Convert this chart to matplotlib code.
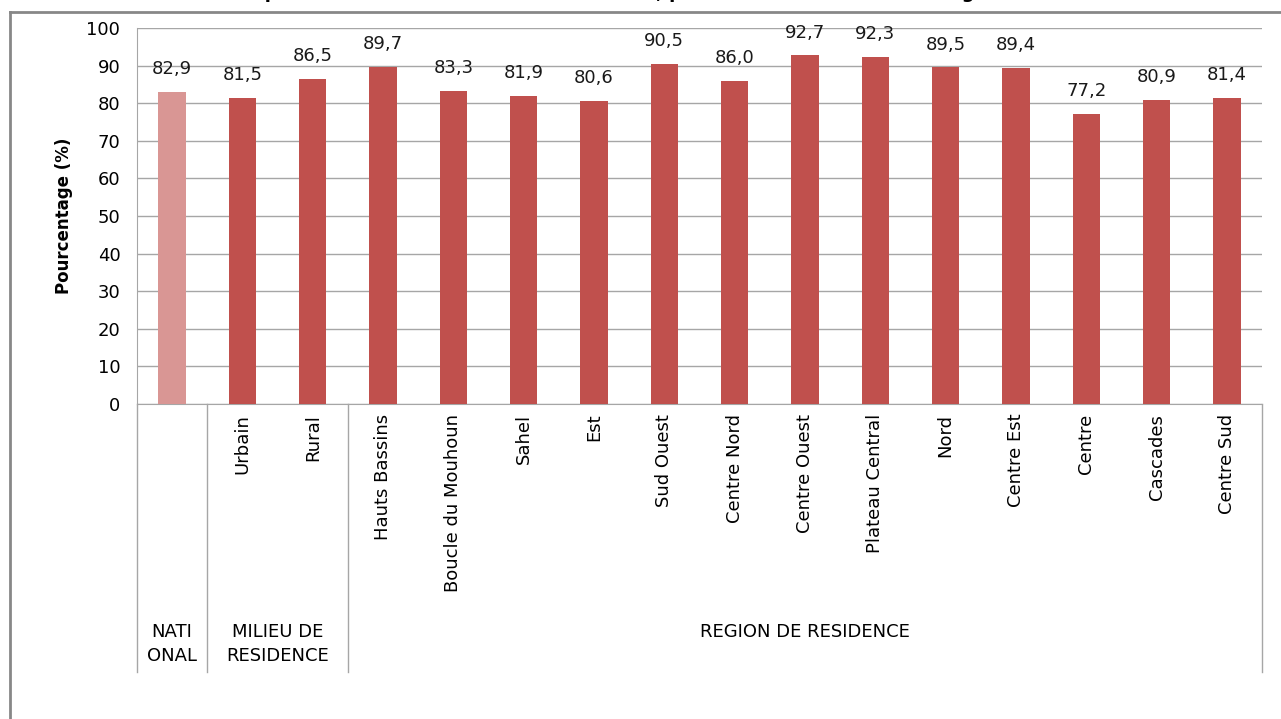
import numpy as np
import matplotlib.pyplot as plt
from matplotlib.lines import Line2D

plt.rcParams['font.family'] = ['DejaVu Sans']

# categories and values
categories = ["", "Urbain", "Rural", "Hauts Bassins", "Boucle du Mouhoun", "Sahel", "Est",
              "Sud Ouest", "Centre Nord", "Centre Ouest", "Plateau Central", "Nord",
              "Centre Est", "Centre", "Cascades", "Centre Sud"]
values = [82.9, 81.5, 86.5, 89.7, 83.3, 81.9, 80.6, 90.5, 86.0, 92.7, 92.3, 89.5,
          89.4, 77.2, 80.9, 81.4]
groups = ["NATI\nONAL", "MILIEU DE\nRESIDENCE", "REGION DE RESIDENCE"]
group_sizes = [1, 2, 13]

c_nat = "#D99694"
c_bar = "#C0504D"
c_line = "#A6A6A6"

fig = plt.figure(figsize=(12.81, 7.19), dpi=100)
ax = fig.add_axes([137/1281, (719-404)/719, (1262-137)/1281, 376/719])

x = np.arange(len(values))
colors = [c_nat] + [c_bar] * (len(values) - 1)
ax.bar(x, values, width=0.39, color=colors, zorder=3)

for xi, v in zip(x, values):
    ax.annotate(f"{v:.1f}".replace(".", ","), (xi, v), xytext=(0, 10),
                textcoords="offset points", ha="center", va="bottom", fontsize=13,
                color="#1a1a1a")

ax.set_xlim(-0.5, len(values) - 0.5)
ax.set_ylim(0, 100)
ax.set_yticks(np.arange(0, 101, 10))
ax.tick_params(axis="y", length=0, pad=12, labelsize=13)
ax.set_xticks(x)
ax.set_xticklabels(categories, rotation=90, fontsize=13)
ax.tick_params(axis="x", length=0, pad=7)
ax.yaxis.grid(True, color=c_line, linewidth=1)
ax.set_axisbelow(True)
for s in ["top", "right"]:
    ax.spines[s].set_visible(False)
ax.spines["left"].set_color(c_line)
ax.spines["bottom"].set_color(c_line)
ax.set_ylabel("Pourcentage (%)", fontsize=12, fontweight="bold", labelpad=10)

# group separators and labels under the category axis
trans = ax.get_xaxis_transform()
ybot = -(672 - 404) / 376
edges = np.concatenate([[0], np.cumsum(group_sizes)]) - 0.5
for e in edges:
    ax.add_line(Line2D([e, e], [0, ybot], transform=trans, color=c_line,
                       linewidth=1, clip_on=False))
ytxt = -(623 - 404) / 376
for g, a, b in zip(groups, edges[:-1], edges[1:]):
    ax.text((a + b) / 2, ytxt, g, transform=trans, ha="center", va="top",
            fontsize=13, linespacing=1.45)

# chart frame
fig.add_artist(Line2D([10/1281, 10/1281], [0, 1 - 12/719], transform=fig.transFigure,
                      color="#878787", linewidth=2))
fig.add_artist(Line2D([10/1281, 1], [1 - 12/719, 1 - 12/719], transform=fig.transFigure,
                      color="#878787", linewidth=2))

# title sits above the top edge, only its lowest part shows
fig.text(0.5, 1 + 2/719, "Enfants complètement vaccinés au niveau national, par milieu de résidence et région de résidence",
         ha="center", va="baseline", fontsize=13, fontweight="bold")

fig.savefig("out.png", dpi=100)
